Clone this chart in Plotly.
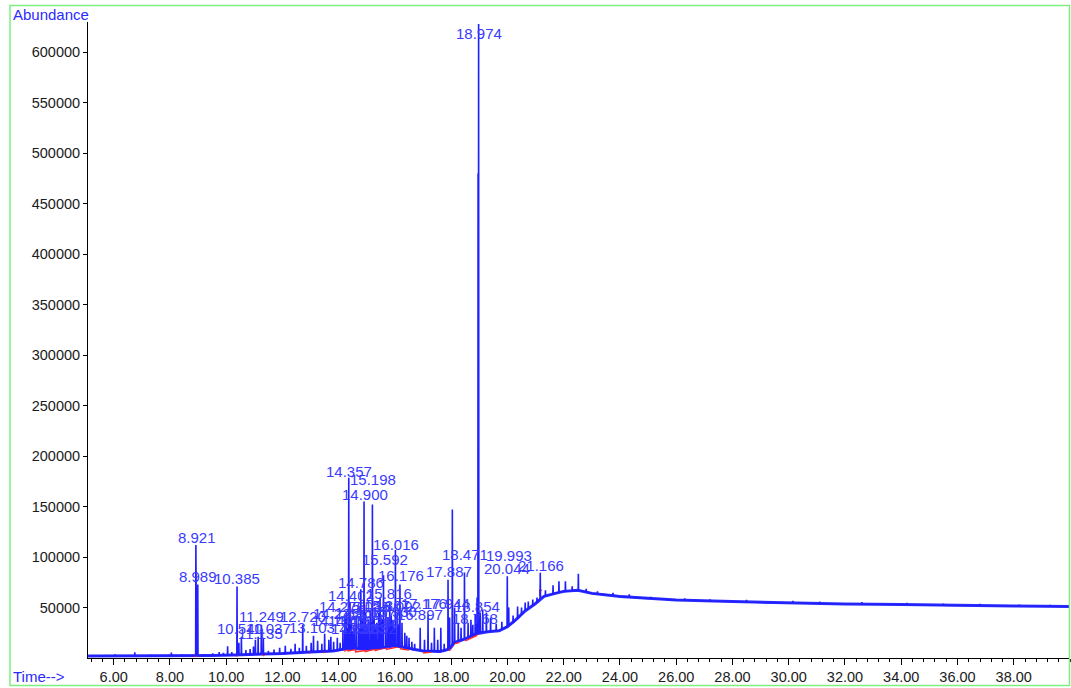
import numpy as np
import plotly.graph_objects as go

# ---------------- data ----------------
# slowly varying baseline of the total-ion chromatogram
base_time = [5.09, 6.0, 7.0, 8.0, 8.8, 9.5, 10.3, 11.0, 12.0, 13.0, 13.8, 14.2, 14.5, 15.0,
             15.5, 16.0, 16.4, 17.0, 17.6, 17.95, 18.1, 18.5, 18.9, 19.3, 19.7, 20.0, 20.3,
             20.6, 21.0, 21.3, 21.7, 22.0, 22.5, 23.0, 24.0, 25.0, 26.0, 28.0, 30.0, 32.0,
             34.0, 36.0, 38.0, 40.0]
base_abund = [2000, 2000, 2000, 2200, 2300, 2500, 3000, 3500, 4500, 6000, 7000, 9000, 9500, 9000,
              10000, 12000, 10000, 7000, 6500, 9000, 15000, 19000, 24000, 26000, 27000, 31000, 38000,
              46000, 54000, 61000, 64000, 66000, 67000, 64000, 61000, 59000, 57500, 56000, 54500, 53500,
              53000, 52000, 51500, 51000]

# peaks: retention time, apex abundance, abundance at the foot of the peak
peak_time = [6.05, 6.75, 7.3, 8.05, 8.42, 8.921, 8.955, 8.989, 9.18, 9.52, 9.75, 9.9, 10.05, 10.2,
             10.385, 10.45, 10.54, 10.7, 10.85, 10.97, 11.037, 11.135, 11.249, 11.32, 11.5, 11.7,
             11.9, 12.1, 12.3, 12.45, 12.6, 12.72, 12.85, 13.02, 13.103, 13.25, 13.4, 13.5, 13.65,
             13.72, 13.82, 13.95, 14.05, 14.15, 14.22, 14.276, 14.32, 14.357, 14.402, 14.45, 14.5,
             14.55, 14.62, 14.70, 14.75, 14.786, 14.85, 14.900, 14.96, 15.0, 15.05, 15.12, 15.16,
             15.198, 15.26, 15.3, 15.35, 15.42, 15.47, 15.53, 15.592, 15.68, 15.75, 15.816, 15.867,
             15.93, 15.97, 16.016, 16.09, 16.13, 16.176, 16.25, 16.35, 16.42, 16.5, 16.6, 16.7,
             16.897, 17.05, 17.176, 17.3, 17.4, 17.52, 17.63, 17.75, 17.887, 17.944, 18.04, 18.12,
             18.25, 18.35, 18.471, 18.6, 18.70, 18.768, 18.854, 18.92, 18.955, 18.974, 19.03,
             19.12, 19.25, 19.4, 19.6, 19.8, 19.993, 20.044, 20.2, 20.36, 20.5, 20.63, 20.74, 20.9,
             21.05, 21.166, 21.35, 21.62, 21.83, 22.06, 22.3, 22.52, 22.8, 23.2, 23.75, 24.33,
             25.1, 26.3, 27.2, 28.5, 30.15, 31.1, 32.6, 34.2, 35.5, 36.8, 38.2, 39.3]
peak_apex = [3500, 5700, 3200, 5400, 3500, 112000, 66000, 72700, 3800, 4500, 6000, 5000, 11500,
             6000, 70800, 15000, 21000, 8000, 9000, 11300, 18000, 21000, 33000, 20000, 7000, 8500,
             10000, 12000, 9000, 14000, 10000, 33000, 12000, 15000, 22000, 17000, 14000, 24000,
             18000, 21000, 16000, 20000, 15000, 28000, 40000, 45000, 30000, 178500, 55000, 38000,
             26000, 30000, 42000, 35000, 30000, 68000, 40000, 155000, 45000, 32000, 38000, 48000,
             36000, 152000, 40000, 30000, 35000, 45000, 60000, 38000, 82000, 45000, 40000, 55000,
             42000, 38000, 30000, 107000, 45000, 33000, 72700, 35000, 25000, 22000, 20000, 16000,
             14000, 30000, 18000, 43000, 15000, 30000, 18000, 30000, 14000, 77600, 40000, 147000,
             50000, 35000, 30000, 84600, 35000, 38000, 33000, 43000, 60000, 480000, 628000, 45000,
             48000, 45000, 40000, 34000, 36000, 81000, 50000, 42000, 51000, 50000, 55000, 56000,
             58000, 60000, 84500, 67000, 72000, 76000, 76000, 71000, 83500, 68500, 66000, 64500,
             63000, 60500, 59000, 58000, 57500, 56500, 56000, 55500, 54500, 54000, 53500, 53000, 52500]
peak_foot = [2000, 2000, 2000, 2200, 2200, 2300, 2300, 2300, 2400, 2500, 2700, 2800, 2900, 3000,
             3000, 3100, 3200, 3300, 3400, 3500, 3500, 3600, 3700, 3800, 4000, 4100,
             4300, 4600, 4900, 5000, 5300, 5500, 5700, 6000, 6100, 6300, 6500, 6600, 6800,
             6900, 7000, 7500, 8000, 8500, 9000, 9000, 9100, 9200, 9300, 9400, 9500,
             9500, 9400, 9300, 9200, 9200, 9100, 9000, 9000, 9000, 9200, 9400, 9500,
             9500, 9600, 9700, 9800, 9900, 10000, 10200, 10500, 11000, 11300, 11500, 11700,
             11900, 12000, 12000, 11600, 11400, 11200, 10800, 10300, 10000, 9500, 8800, 8200,
             7500, 7000, 6900, 6800, 6700, 6600, 6500, 7000, 8500, 9500, 12000, 15500,
             17000, 18000, 19000, 20500, 21500, 22500, 23500, 24000, 24500, 25000, 25500,
             26000, 26000, 26500, 27000, 28500, 31000, 32000, 35000, 39000, 43000, 47000, 49000, 52000,
             55000, 59000, 61500, 63500, 65000, 66000, 66500, 67000, 65500, 63500, 62000, 60500,
             59000, 57500, 56500, 55500, 54500, 54000, 53500, 53000, 52300, 52000, 51500, 51200]

# integration baseline marks (red), segments separated by None
integ_time = [8.86, 8.90, 8.94, None, 10.36, 10.42, None, 11.30, 11.42, None, 12.95, 13.05, None,
              13.45, 13.55, None, 14.20, 14.33, 14.33, 14.60, 14.60, 14.95, 14.95, 15.30, 15.30,
              15.70, 15.70, 16.20, 16.20, 16.50, None, 17.00, 17.30, None, 17.92, 18.10, 18.30, None,
              18.50, 18.70, 18.70, 18.90, 18.90, 18.96, None, 20.03, 20.03, None, 21.15, 21.15, 21.22]
integ_abund = [1000, 4000, 1000, None, 1500, 4000, None, 2200, 4500, None, 4500, 8500, None,
               5000, 8000, None, 6500, 9500, 7000, 8500, 6000, 7500, 6500, 9000, 7500,
               10500, 8500, 11500, 9000, 8000, None, 5000, 6000, None, 7000, 14000, 15500, None,
               17000, 19500, 19500, 21500, 22000, 25000, None, 31000, 50000, None, 61000, 67000, 67000]

# peak labels: text, time of label centre, abundance of label centre
label_text = ["18.974", "14.357", "15.198", "14.900", "8.921", "8.989", "10.385", "16.016",
              "15.592", "16.176", "14.786", "17.887", "18.471", "19.993", "20.044", "21.166",
              "14.402", "15.816", "17.176", "17.944", "18.854", "18.768", "16.897", "11.249",
              "12.720", "10.540", "11.037", "11.135", "13.103", "14.276", "14.235", "14.190",
              "14.452", "14.557", "15.035", "15.127", "15.264", "15.867", "15.930", "16.092",
              "14.622", "14.963", "15.352"]
label_time = [18.98, 14.37, 15.21, 14.93, 8.97, 8.99, 10.40, 16.025,
              15.66, 16.20, 14.78, 17.93, 18.48, 20.04, 20.00, 21.20,
              14.43, 15.79, 17.04, 17.85, 18.90, 18.85, 16.90, 11.26,
              12.73, 10.50, 11.49, 11.21, 13.06, 14.10, 13.90, 13.85,
              14.45, 14.70, 15.00, 15.20, 15.35, 15.70, 15.95, 16.10,
              14.55, 14.90, 15.25]
label_abund = [618700, 184500, 176600, 161700, 119200, 80600, 78600, 112300,
               97900, 81600, 74700, 85600, 102400, 101400, 88500, 91500,
               61800, 63800, 53900, 53900, 50900, 38900, 42900, 41300,
               41000, 29200, 29200, 24300, 30200, 50900, 44000, 37000,
               37000, 45000, 50900, 43000, 36000, 51900, 45900, 50900,
               29200, 29200, 29200]

x_ticks = [6, 8, 10, 12, 14, 16, 18, 20, 22, 24, 26, 28, 30, 32, 34, 36, 38]
y_ticks = [50000, 100000, 150000, 200000, 250000, 300000, 350000, 400000, 450000,
           500000, 550000, 600000]

# ---------------- build the trace ----------------
HW = 0.008  # half width of a spike (minutes)
pt = np.array(peak_time)
bt = np.array(base_time, dtype=float)
ba = np.array(base_abund, dtype=float)
keep = np.array([np.all(np.abs(pt - t) > HW + 0.002) for t in bt])
tt = list(bt[keep])
aa = list(ba[keep])
for t, a, f in zip(peak_time, peak_apex, peak_foot):
    tt += [t - HW, t, t + HW]
    aa += [f, a, f]
tt = np.array(tt)
aa = np.array(aa)
order = np.argsort(tt, kind="stable")
tt = tt[order]
aa = aa[order]

FONT = "Liberation Sans, Arial, sans-serif"
BLUE = "#2020ff"

fig = go.Figure()
# noisy baseline band
fig.add_trace(go.Scatter(x=base_time, y=base_abund, mode="lines",
                         line=dict(color="#3030ff", width=3), hoverinfo="skip", showlegend=False))
fig.add_trace(go.Scatter(x=integ_time, y=integ_abund, mode="lines",
                         line=dict(color="#ff2a2a", width=1.5), hoverinfo="skip",
                         connectgaps=False, showlegend=False))
fig.add_trace(go.Scatter(x=tt, y=aa, mode="lines",
                         line=dict(color=BLUE, width=1.6), showlegend=False))

for txt, t, a in zip(label_text, label_time, label_abund):
    fig.add_annotation(x=t, y=a, text=txt, showarrow=False, xanchor="center", yanchor="middle",
                       font=dict(family=FONT, size=15, color="#3a3aff"))

fig.add_annotation(xref="paper", yref="paper", x=(11 - 88) / 982, y=(658 - 15) / 636,
                   text="Abundance", showarrow=False, xanchor="left", yanchor="middle",
                   font=dict(family=FONT, size=15, color="#2a2aff"))
fig.add_annotation(xref="paper", yref="paper", x=(11 - 88) / 982, y=(658 - 676) / 636,
                   text="Time-->", showarrow=False, xanchor="left", yanchor="middle",
                   font=dict(family=FONT, size=15, color="#2a2aff"))

fig.add_shape(type="rect", xref="paper", yref="paper",
              x0=(10 - 88) / 982, x1=(1069.5 - 88) / 982,
              y0=(658 - 685.5) / 636, y1=(658 - 5.5) / 636,
              line=dict(color="#7ff07f", width=1.5), fillcolor="rgba(0,0,0,0)", layer="above")

fig.update_layout(
    width=1071, height=688,
    margin=dict(l=88, r=1, t=22, b=30),
    paper_bgcolor="white", plot_bgcolor="white",
    font=dict(family=FONT, size=14, color="#1a1a1a"),
    showlegend=False,
    xaxis=dict(range=[5.086, 40.0], tickvals=x_ticks, tickformat=".2f",
               showgrid=False, zeroline=False, showline=True, linecolor="black", linewidth=1,
               ticks="outside", ticklen=6, tickcolor="black", tickwidth=1,
               tickfont=dict(family=FONT, size=14.5, color="#1a1a1a"),
               minor=dict(dtick=0.4, tick0=6, ticks="outside", ticklen=3, tickcolor="black")),
    yaxis=dict(range=[0, 630000], tickvals=y_ticks, tickformat="d",
               showgrid=False, zeroline=False, showline=True, linecolor="black", linewidth=1,
               ticks="outside", ticklen=4, tickcolor="black",
               tickfont=dict(family=FONT, size=14.5, color="#1a1a1a")),
)

fig.write_html("out.html", config={"displayModeBar": False},
               post_script="document.body.style.margin='0';document.body.style.overflow='hidden';")
